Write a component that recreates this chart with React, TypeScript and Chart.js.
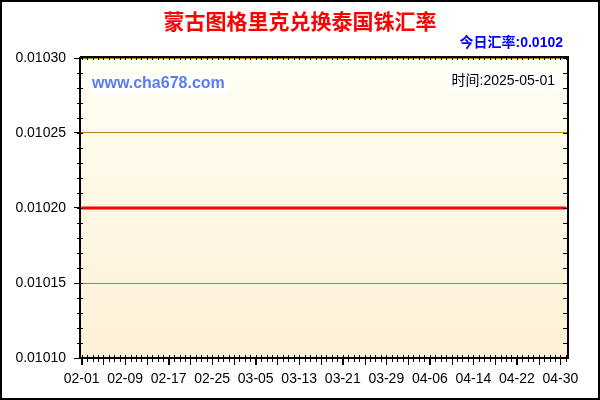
import React, { useEffect, useRef } from "react";
import { Chart, registerables, Plugin } from "chart.js";

Chart.register(...registerables);

// texts
const titleText = "蒙古图格里克兑换泰国铢汇率";
const todayRateText = "今日汇率:0.0102";
const siteText = "www.cha678.com";
const timeText = "时间:2025-05-01";

// categories (MM-DD, 2025-02-01 .. 2025-05-01)
const dates = [
    "02-01", "02-02", "02-03", "02-04", "02-05", "02-06", "02-07", "02-08", "02-09", "02-10",
    "02-11", "02-12", "02-13", "02-14", "02-15", "02-16", "02-17", "02-18", "02-19", "02-20",
    "02-21", "02-22", "02-23", "02-24", "02-25", "02-26", "02-27", "02-28",
    "03-01", "03-02", "03-03", "03-04", "03-05", "03-06", "03-07", "03-08", "03-09", "03-10",
    "03-11", "03-12", "03-13", "03-14", "03-15", "03-16", "03-17", "03-18", "03-19", "03-20",
    "03-21", "03-22", "03-23", "03-24", "03-25", "03-26", "03-27", "03-28", "03-29", "03-30", "03-31",
    "04-01", "04-02", "04-03", "04-04", "04-05", "04-06", "04-07", "04-08", "04-09", "04-10",
    "04-11", "04-12", "04-13", "04-14", "04-15", "04-16", "04-17", "04-18", "04-19", "04-20",
    "04-21", "04-22", "04-23", "04-24", "04-25", "04-26", "04-27", "04-28", "04-29", "04-30",
    "05-01"
];

// series: MNT -> THB rate, flat over the period
const rates = [
    0.0102, 0.0102, 0.0102, 0.0102, 0.0102, 0.0102, 0.0102, 0.0102, 0.0102, 0.0102,
    0.0102, 0.0102, 0.0102, 0.0102, 0.0102, 0.0102, 0.0102, 0.0102, 0.0102, 0.0102,
    0.0102, 0.0102, 0.0102, 0.0102, 0.0102, 0.0102, 0.0102, 0.0102,
    0.0102, 0.0102, 0.0102, 0.0102, 0.0102, 0.0102, 0.0102, 0.0102, 0.0102, 0.0102,
    0.0102, 0.0102, 0.0102, 0.0102, 0.0102, 0.0102, 0.0102, 0.0102, 0.0102, 0.0102,
    0.0102, 0.0102, 0.0102, 0.0102, 0.0102, 0.0102, 0.0102, 0.0102, 0.0102, 0.0102, 0.0102,
    0.0102, 0.0102, 0.0102, 0.0102, 0.0102, 0.0102, 0.0102, 0.0102, 0.0102, 0.0102,
    0.0102, 0.0102, 0.0102, 0.0102, 0.0102, 0.0102, 0.0102, 0.0102, 0.0102, 0.0102,
    0.0102, 0.0102, 0.0102, 0.0102, 0.0102, 0.0102, 0.0102, 0.0102, 0.0102, 0.0102,
    0.0102
];

// tick labels
const xTickLabels = ["02-01", "02-09", "02-17", "02-25", "03-05", "03-13", "03-21", "03-29", "04-06", "04-14", "04-22", "04-30"];
const yTickValues = [0.0101, 0.01015, 0.0102, 0.01025, 0.0103];

const FONT = "Arial, 'Liberation Sans', 'Noto Sans CJK SC', sans-serif";
const GOLD = "#b38a16";

const framePlugin: Plugin<"line"> = {
    id: "frame",
    beforeDraw: (chart) => {
        const { ctx, width, height, chartArea: a } = chart;
        ctx.save();
        ctx.fillStyle = "#fff";
        ctx.fillRect(0, 0, width, height);
        const g = ctx.createLinearGradient(0, a.top, 0, a.bottom);
        g.addColorStop(0, "#fffff3");
        g.addColorStop(1, "#fdf0d6");
        ctx.fillStyle = g;
        ctx.fillRect(a.left, a.top, a.right - a.left, a.bottom - a.top);
        ctx.restore();
    },
    afterDraw: (chart) => {
        const { ctx, width, height, chartArea: a } = chart;
        const xs = chart.scales.x;
        const ys = chart.scales.y;
        ctx.save();

        // top and right frame lines
        ctx.strokeStyle = "#000";
        ctx.lineWidth = 2;
        ctx.beginPath();
        ctx.moveTo(a.left, a.top - 1);
        ctx.lineTo(a.right + 1, a.top - 1);
        ctx.moveTo(a.right, a.top - 1);
        ctx.lineTo(a.right, a.bottom + 1);
        ctx.stroke();

        // day ticks on bottom and top
        ctx.lineWidth = 1;
        ctx.beginPath();
        dates.forEach((_, i) => {
            const x = Math.round(xs.getPixelForValue(i)) + 0.5;
            const long = i % 4 === 0;
            ctx.moveTo(x, a.bottom - 3);
            ctx.lineTo(x, a.bottom + (long ? 7 : 4));
            ctx.moveTo(x, a.top - 1);
            ctx.lineTo(x, a.top + 2);
        });
        // minor value ticks on left and right
        const yMin = yTickValues[0];
        const yMax = yTickValues[yTickValues.length - 1];
        const steps = Math.round((yMax - yMin) / 0.00001);
        for (let k = 0; k <= steps; k++) {
            const y = Math.round(ys.getPixelForValue(yMin + k * 0.00001)) + 0.5;
            ctx.moveTo(a.left - 3, y);
            ctx.lineTo(a.left + 3, y);
            ctx.moveTo(a.right - 5, y);
            ctx.lineTo(a.right, y);
        }
        ctx.stroke();

        // title
        ctx.textBaseline = "middle";
        ctx.textAlign = "center";
        ctx.fillStyle = "#ff0000";
        ctx.font = `bold 21px ${FONT}`;
        ctx.fillText(titleText, width / 2, 23);

        // today's rate
        ctx.textAlign = "right";
        ctx.fillStyle = "#0000ff";
        ctx.font = `bold 14px ${FONT}`;
        ctx.fillText(todayRateText, 563, 43);

        // site
        ctx.textAlign = "left";
        ctx.font = `bold 16px ${FONT}`;
        const sw = ctx.measureText(siteText).width;
        ctx.fillStyle = "#fff";
        ctx.fillRect(89, 74, sw + 6, 20);
        ctx.fillStyle = "#5b7cf0";
        ctx.fillText(siteText, 92, 84);

        // time
        ctx.textAlign = "right";
        ctx.font = `14px ${FONT}`;
        const tw = ctx.measureText(timeText).width;
        ctx.fillStyle = "#fff";
        ctx.fillRect(555 - tw - 3, 72, tw + 6, 18);
        ctx.fillStyle = "#000";
        ctx.fillText(timeText, 555, 81);

        // outer border
        ctx.strokeStyle = "#000";
        ctx.lineWidth = 2;
        ctx.strokeRect(1, 1, width - 2, height - 2);
        ctx.restore();
    }
};

const App: React.FC = () => {
    const canvasRef = useRef<HTMLCanvasElement | null>(null);
    const chartRef = useRef<Chart<"line"> | null>(null);

    useEffect(() => {
        if (!canvasRef.current) return;
        if (chartRef.current) chartRef.current.destroy();

        const xTickIdx = xTickLabels.map((l) => dates.indexOf(l));

        chartRef.current = new Chart(canvasRef.current, {
            type: "line",
            data: {
                datasets: [
                    {
                        data: rates.map((v, i) => ({ x: i, y: v })),
                        borderColor: "#ff0000",
                        borderWidth: 3,
                        pointRadius: 0,
                        tension: 0
                    }
                ]
            },
            options: {
                responsive: false,
                animation: false,
                layout: { padding: { top: 58, right: 32, left: 0, bottom: 0 } },
                plugins: {
                    legend: { display: false },
                    tooltip: { enabled: false }
                },
                scales: {
                    x: {
                        type: "linear",
                        min: -0.3,
                        max: 89.4,
                        afterFit: (s) => { s.height = 42; },
                        afterBuildTicks: (s) => { s.ticks = xTickIdx.map((v) => ({ value: v })); },
                        ticks: {
                            autoSkip: false,
                            maxRotation: 0,
                            padding: 6,
                            color: "#000",
                            font: { family: FONT, size: 14 },
                            callback: (v) => dates[Number(v)] ?? ""
                        },
                        grid: { drawOnChartArea: false, tickLength: 7, tickColor: "#000" },
                        border: { display: true, color: "#000", width: 2 }
                    },
                    y: {
                        min: 0.0101,
                        max: 0.0103,
                        afterFit: (s) => { s.width = 80; },
                        afterBuildTicks: (s) => { s.ticks = yTickValues.map((v) => ({ value: v })); },
                        ticks: {
                            padding: 8,
                            color: "#000",
                            font: { family: FONT, size: 14 },
                            callback: (v) => Number(v).toFixed(5)
                        },
                        grid: { color: GOLD, lineWidth: 1, tickLength: 6, tickColor: "#000" },
                        border: { display: true, color: "#000", width: 2 }
                    }
                }
            },
            plugins: [framePlugin]
        });

        return () => {
            chartRef.current?.destroy();
            chartRef.current = null;
        };
    }, []);

    return (
        <div style={{ position: "fixed", left: 0, top: 0, width: 600, height: 400 }}>
            <canvas ref={canvasRef} width={600} height={400}></canvas>
        </div>
    );
};

export default App;
